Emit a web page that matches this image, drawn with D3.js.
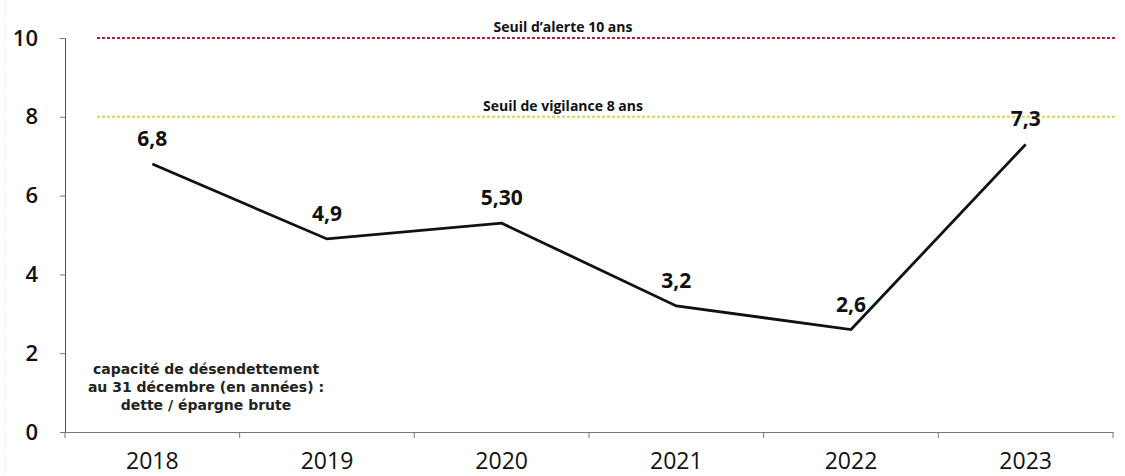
<!DOCTYPE html>
<html>
<head>
<meta charset="utf-8">
<title>Capacité de désendettement</title>
<script src="https://cdn.jsdelivr.net/npm/d3@7"></script>
<style>
  body { margin: 0; background: #fff; }
  svg { display: block; }
</style>
</head>
<body>
<script>
// data
var years = ["2018", "2019", "2020", "2021", "2022", "2023"];
var values = [6.8, 4.9, 5.3, 3.2, 2.6, 7.3];
var valueLabels = ["6,8", "4,9", "5,30", "3,2", "2,6", "7,3"];
var yTicks = [0, 2, 4, 6, 8, 10];
var thresholds = [10, 8];
var thresholdLabels = ["Seuil d\u2019alerte 10 ans", "Seuil de vigilance 8 ans"];
var thresholdColors = ["#a8232e", "#e2d24a"];
var noteLines = ["capacité de désendettement", "au 31 décembre (en années) :", "dette / épargne brute"];

var width = 1125, height = 476;
var margin = { left: 65, top: 38, right: 12, bottom: 44 };

var svg = d3.select("body").append("svg")
    .attr("width", width)
    .attr("height", height);

var x = d3.scaleBand()
    .domain(years)
    .range([margin.left, width - margin.right]);

var y = d3.scaleLinear()
    .domain([0, 10])
    .range([height - margin.bottom, margin.top]);

// faint left edge of the scan
svg.append("line")
    .attr("x1", 5).attr("x2", 5)
    .attr("y1", 0).attr("y2", height)
    .style("stroke", "#ddd")
    .style("stroke-dasharray", "1,2");

// y axis
var yAxis = d3.axisLeft(y).tickValues(yTicks).tickSize(5).tickPadding(22);
var gy = svg.append("g")
    .attr("transform", "translate(" + margin.left + ",0)")
    .call(yAxis);
gy.select(".domain").style("stroke", "#555");
gy.selectAll(".tick line").style("stroke", "#777");
gy.selectAll(".tick text")
    .style("font-family", "'Open Sans', sans-serif")
    .style("font-size", "22px")
    .style("font-weight", 600)
    .style("fill", "#111");

// x axis with ticks on the band edges
var xAxis = d3.axisBottom(x).tickSize(0).tickPadding(21);
var gx = svg.append("g")
    .attr("transform", "translate(0," + y(0) + ")")
    .call(xAxis);
gx.select(".domain").style("stroke", "#777");
gx.selectAll(".tick text")
    .style("font-family", "'Open Sans', sans-serif")
    .style("font-size", "23px")
    .style("fill", "#111");

var edges = years.map(function (d) { return x(d); }).concat([x.range()[1]]);
gx.selectAll("line.edge")
    .data(edges)
    .enter().append("line")
    .attr("class", "edge")
    .attr("x1", function (d) { return d; })
    .attr("x2", function (d) { return d; })
    .attr("y1", 0).attr("y2", 6)
    .style("stroke", "#777");

// threshold lines
thresholds.forEach(function (t, i) {
    svg.append("line")
        .attr("x1", margin.left + 32)
        .attr("x2", width - 10)
        .attr("y1", y(t)).attr("y2", y(t))
        .style("stroke", thresholdColors[i])
        .style("stroke-width", 2)
        .style("stroke-dasharray", "3,2");
    svg.append("text")
        .attr("x", 563)
        .attr("y", y(t) - 6)
        .attr("text-anchor", "middle")
        .style("font-family", "'Open Sans', sans-serif")
        .style("font-size", "14px")
        .style("font-weight", 700)
        .style("fill", "#111")
        .text(thresholdLabels[i]);
});

// the series
var pts = years.map(function (d, i) { return { year: d, v: values[i], label: valueLabels[i] }; });

var line = d3.line()
    .x(function (d) { return x(d.year) + x.bandwidth() / 2; })
    .y(function (d) { return y(d.v); });

svg.append("path")
    .datum(pts)
    .attr("d", line)
    .style("fill", "none")
    .style("stroke", "#111")
    .style("stroke-width", 2.8)
    .style("stroke-linejoin", "miter");

svg.selectAll("text.val")
    .data(pts)
    .enter().append("text")
    .attr("class", "val")
    .attr("x", function (d) { return x(d.year) + x.bandwidth() / 2; })
    .attr("y", function (d) { return y(d.v) - 18; })
    .attr("text-anchor", "middle")
    .style("font-family", "'Open Sans', sans-serif")
    .style("font-size", "21px")
    .style("font-weight", 700)
    .style("fill", "#111")
    .text(function (d) { return d.label; });

// note in the lower left
svg.append("text")
    .attr("x", 206)
    .attr("y", 374)
    .attr("text-anchor", "middle")
    .style("font-family", "'DejaVu Sans', sans-serif")
    .style("font-size", "14px")
    .style("font-weight", 700)
    .style("fill", "#222")
    .selectAll("tspan")
    .data(noteLines)
    .enter().append("tspan")
    .attr("x", 206)
    .attr("dy", function (d, i) { return i ? 18 : 0; })
    .text(function (d) { return d; });
</script>
</body>
</html>
